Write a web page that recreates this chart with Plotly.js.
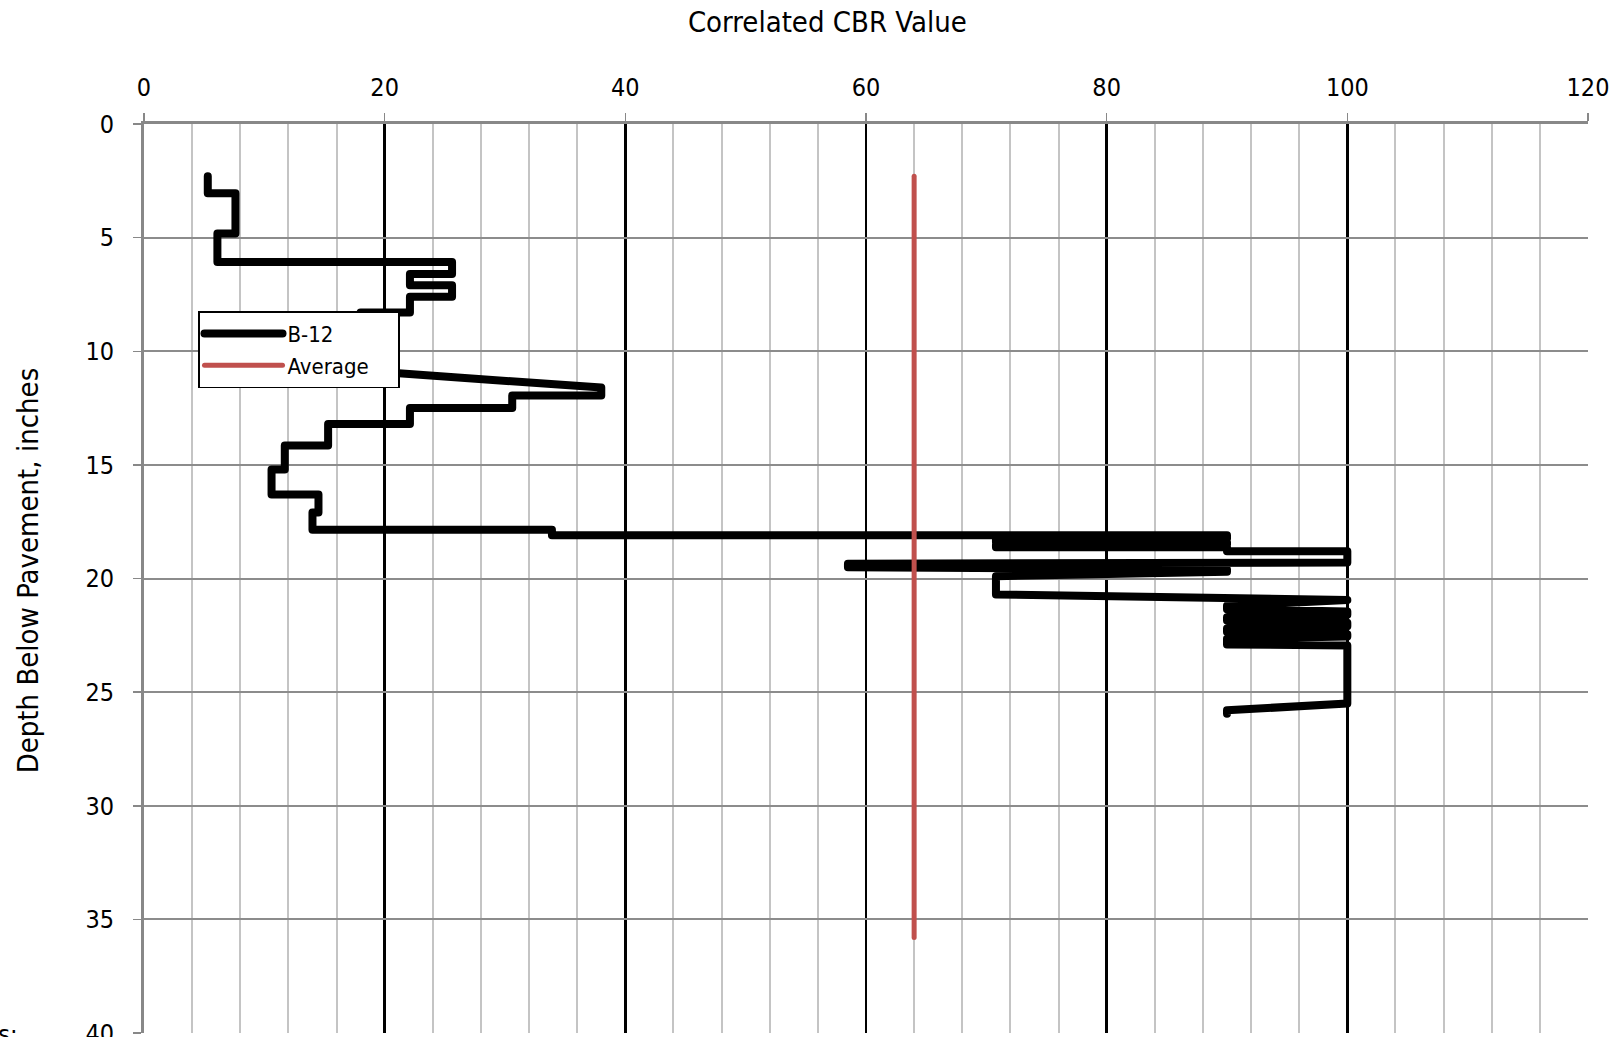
<!DOCTYPE html>
<html>
<head>
<meta charset="utf-8">
<script src="https://cdn.plot.ly/plotly-3.0.1.min.js"></script>
<style>
  html, body { margin: 0; padding: 0; background: #fff; }
  #chart { width: 1619px; height: 1037px; }
  .scatterlayer path.js-line { stroke-linejoin: round; stroke-linecap: round; }
  .legend .traces:nth-of-type(1) .legendlines path { stroke-width: 8px !important; stroke-linecap: round; }
  .legend .traces .legendlines path { stroke-linecap: round; }
</style>
</head>
<body>
<div id="chart"></div>
<script>
// B-12 profile: correlated CBR value vs depth below pavement (inches)
const b12Cbr = [5.3, 5.3, 7.6, 7.6, 6.1, 6.1, 25.6, 25.6, 22.1, 22.1, 25.6, 25.6, 22.1, 22.1,
  18.0, 18.0, 38.0, 38.0, 30.6, 30.6, 22.1, 22.1, 15.3, 15.3, 11.7, 11.7, 10.6, 10.6,
  14.5, 14.5, 14.0, 14.0, 33.9, 33.9,
  90.0, 90.0, 70.8, 70.8, 90.0, 90.0, 70.8, 70.8, 90.0, 90.0, 100.0, 100.0,
  58.5, 58.5, 90.0, 90.0, 70.8, 70.8, 100.0,
  90.0, 90.0, 100.0, 100.0, 90.0, 90.0, 100.0, 100.0, 90.0, 90.0, 100.0, 100.0, 90.0, 90.0, 100.0,
  100.0, 90.0, 90.0];
const b12Depth = [2.3, 3.05, 3.05, 4.82, 4.82, 6.07, 6.07, 6.6, 6.6, 7.1, 7.1, 7.6, 7.6, 8.3,
  8.3, 10.85, 11.6, 11.95, 11.95, 12.5, 12.5, 13.2, 13.2, 14.15, 14.15, 15.2, 15.2, 16.3,
  16.3, 17.1, 17.1, 17.85, 17.85, 18.1,
  18.1, 18.25, 18.25, 18.4, 18.4, 18.5, 18.5, 18.62, 18.62, 18.8, 18.8, 19.3,
  19.35, 19.5, 19.6, 19.7, 19.9, 20.7, 20.95,
  21.2, 21.35, 21.45, 21.6, 21.7, 21.85, 21.95, 22.1, 22.2, 22.35, 22.45, 22.55, 22.65, 22.9, 22.95,
  25.5, 25.8, 25.95];

// Average CBR line
const avgCbr = [64.0, 64.0];
const avgDepth = [2.3, 35.8];

// Axis ticks
const xTicks = [0, 20, 40, 60, 80, 100, 120];
const yTicks = [0, 5, 10, 15, 20, 25, 30, 35, 40];

const FONT = '"Liberation Sans Narrow", "DejaVu Sans Condensed", "Liberation Sans", sans-serif';

const traces = [
  {
    x: b12Cbr, y: b12Depth, name: 'B-12', type: 'scatter', mode: 'lines',
    line: { color: '#000000', width: 8 }
  },
  {
    x: avgCbr, y: avgDepth, name: 'Average', type: 'scatter', mode: 'lines',
    line: { color: '#C0504D', width: 5 }
  }
];

const layout = {
  width: 1619, height: 1037,
  margin: { l: 144, r: 31, t: 124, b: 4 },
  paper_bgcolor: '#ffffff', plot_bgcolor: '#ffffff',
  font: { family: FONT, color: '#000', size: 25 },
  showlegend: true,
  title: {
    text: 'Correlated CBR Value',
    font: { family: FONT, size: 29, color: '#000' },
    xref: 'container', yref: 'container',
    x: 0.511, xanchor: 'center', y: 0.979, yanchor: 'middle'
  },
  xaxis: {
    side: 'top', range: [0, 120], tickvals: xTicks, ticktext: xTicks.map(String),
    showgrid: true, gridcolor: '#000000', gridwidth: 2.5,
    minor: { dtick: 4, showgrid: true, gridcolor: '#C4C4C4', gridwidth: 2 },
    showline: true, linecolor: '#888888', linewidth: 3,
    ticks: 'outside', ticklen: 8, tickcolor: '#888888', tickwidth: 1.5,
    ticklabelstandoff: 7, ticklabeloverflow: 'allow',
    zeroline: false, tickfont: { family: FONT, size: 25, color: '#000' }
  },
  yaxis: {
    range: [40, 0], tickvals: yTicks, ticktext: yTicks.map(String),
    showgrid: true, gridcolor: '#8C8C8C', gridwidth: 2,
    showline: true, linecolor: '#888888', linewidth: 3,
    ticks: 'outside', ticklen: 8, tickcolor: '#888888', tickwidth: 1.5,
    ticklabelstandoff: 14, ticklabeloverflow: 'allow',
    zeroline: false, tickfont: { family: FONT, size: 25, color: '#000' }
  },
  legend: {
    x: 0.0374, y: 0.794, xanchor: 'left', yanchor: 'top',
    bgcolor: '#ffffff', bordercolor: '#000000', borderwidth: 1.5,
    font: { family: FONT, size: 22, color: '#000' },
    itemwidth: 78,
    tracegroupgap: 0
  },
  annotations: [
    {
      text: 'Depth Below Pavement, inches', textangle: -90,
      xref: 'paper', yref: 'paper', x: -0.0803, y: 0.509,
      xanchor: 'center', yanchor: 'middle', showarrow: false,
      font: { family: FONT, size: 29, color: '#000' }
    },
    {
      text: 'Notes:', xref: 'paper', yref: 'paper',
      x: -0.0859, y: -0.002, xanchor: 'right', yanchor: 'middle', showarrow: false,
      font: { family: FONT, size: 25, color: '#000' }
    }
  ]
};

Plotly.newPlot('chart', traces, layout, { displayModeBar: false, staticPlot: true }).then(function (gd) {
  const bg = gd.querySelector('.legend rect.bg');
  if (bg) { bg.setAttribute('width', 200); }
});
</script>
</body>
</html>
